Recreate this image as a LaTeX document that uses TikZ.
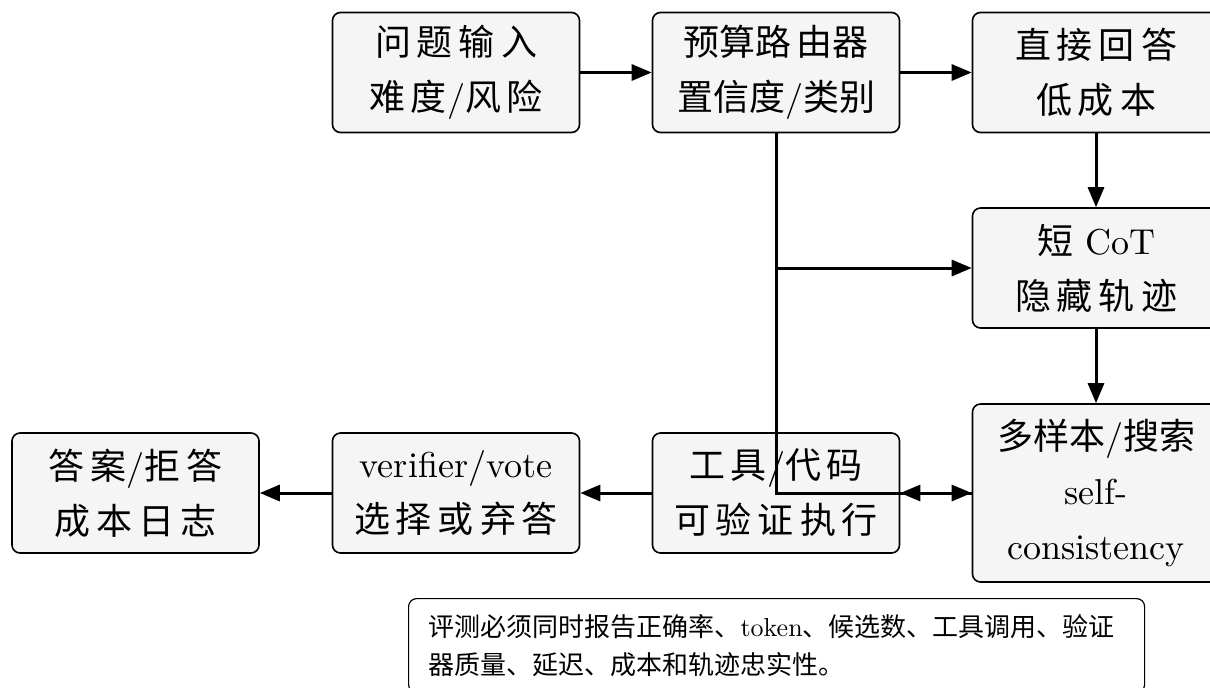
\documentclass[tikz,border=0pt]{standalone}
\usepackage{fontspec}
\setmainfont{lmroman10-regular.otf}
\newfontfamily\cjkfont{Noto Sans CJK SC}
\newcommand\zhs[1]{{\cjkfont #1}}
\usetikzlibrary{arrows.meta}

\tikzset{
  stagebox/.style={draw=black, line width=0.8pt, rounded corners=4pt,
    fill=black!4, minimum width=123.5pt, minimum height=60pt,
    align=center, inner sep=2pt, font=\fontsize{18}{27.5}\selectfont},
  notebox/.style={draw=black, line width=0.6pt, rounded corners=4pt,
    fill=white, anchor=north west, text width=348pt, align=left,
    inner xsep=10pt, inner ysep=6pt, minimum height=47pt,
    font=\fontsize{13}{19}\selectfont},
  flow/.style={line width=1.5pt, -{Triangle[length=10pt,width=8pt]}},
  plain/.style={line width=1.5pt}
}

\begin{document}
\begin{tikzpicture}[x=0.5pt,y=-0.5pt]
\useasboundingbox (0,0) rectangle (1210,687);

% upper row
\node[stagebox] (input) at (456,72.5)
  {\zhs{问\,题\,输\,入}\\\zhs{难\,度}/\zhs{风\,险}};
\node[stagebox] (router) at (776,72.5)
  {\zhs{预算路\,由器}\\\zhs{置信度}/\zhs{类别}};
\node[stagebox] (direct) at (1096,72.5)
  {\zhs{直\,接\,回\,答}\\\zhs{低\,成\,本}};

% right column
\node[stagebox] (cot) at (1096,268)
  {\zhs{短} CoT\\\zhs{隐\,藏\,轨\,迹}};
\node[stagebox, minimum height=89pt] (multi) at (1096,493)
  {\zhs{多样本}/\zhs{搜索}\\self-\\consistency};

% lower row
\node[stagebox] (tool) at (776,493)
  {\zhs{工\,具}/\zhs{代\,码}\\\zhs{可\,验\,证\,执\,行}};
\node[stagebox] (verify) at (456,493)
  {verifier/vote\\\zhs{选\,择\,或\,弃\,答}};
\node[stagebox] (answer) at (135.5,493)
  {\zhs{答\,案}/\zhs{拒\,答}\\\zhs{成\,本\,日\,志}};

% evaluation note
\node[notebox] (note) at (408,598)
  {\zhs{评测必须同时报告正确率、}token\zhs{、候选数、工具调用、验证}\\
   \zhs{器质量、延迟、成本和轨迹忠实性。}};

% connectors
\draw[flow] (input) -- (router);
\draw[flow] (router) -- (direct);
\draw[flow] (direct) -- (cot);
\draw[flow] (cot) -- (multi);
\draw[flow] (router.south) |- (cot.west);
\draw[flow] (router.south) |- (multi.west);
\draw[flow] (multi.west) -- (tool.east);
\draw[flow] (tool) -- (verify);
\draw[flow] (verify) -- (answer);
\end{tikzpicture}
\end{document}
